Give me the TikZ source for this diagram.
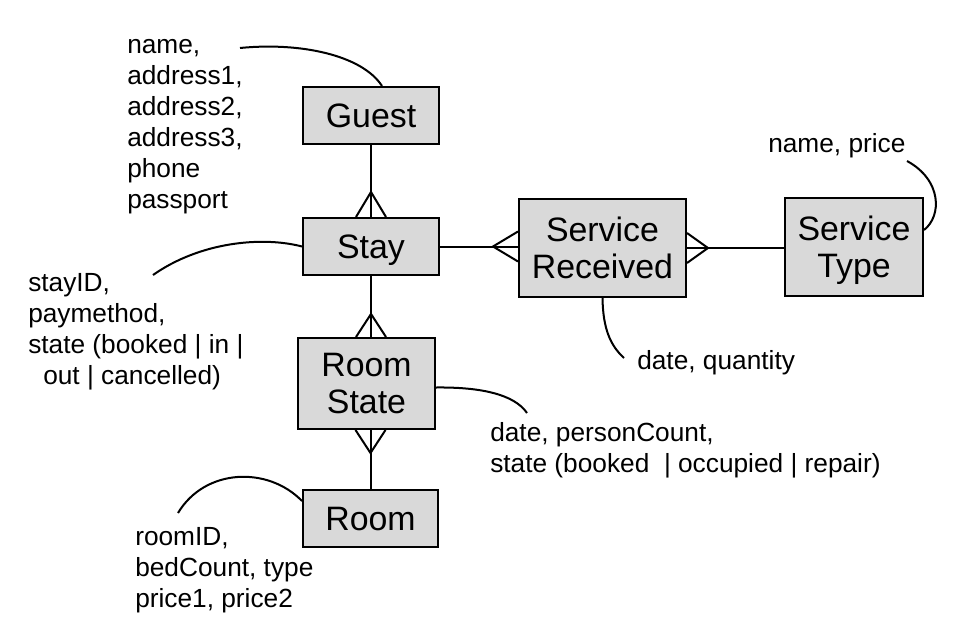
\documentclass[tikz,border=0pt]{standalone}
\usepackage{fontspec}
\setmainfont{Liberation Sans}
\usetikzlibrary{calc}

\definecolor{boxgray}{RGB}{217,217,217}

\tikzset{
  entity/.style={draw, line width=1.5pt, fill=boxgray, inner sep=0pt, align=center,
    text depth=0pt, font=\fontsize{25.4}{27.75}\selectfont},
  attr/.style={anchor=north west, inner sep=0pt, align=left,
    font=\fontsize{19.7}{23.25}\selectfont},
  link/.style={line width=1.5pt},
}

\begin{document}
\begin{tikzpicture}[x=0.75pt,y=-0.75pt]
\useasboundingbox (0,0) rectangle (974,628);

% Entities
\node [entity, minimum width=102pt, minimum height=42.75pt] (guest) at (371,115.5) {Guest};
\node [entity, minimum width=102pt, minimum height=42.75pt] (stay) at (371,246.5) {Stay};
\node [entity, minimum width=102.75pt, minimum height=68.25pt] (rs) at (366.5,383.5) {Room\\State};
\node [entity, minimum width=101.25pt, minimum height=42.75pt] (room) at (370.5,518.5) {Room};
\node [entity, minimum width=125.25pt, minimum height=73.5pt] (sr) at (602.5,248) {Service\\Received};
\node [entity, minimum width=103.5pt, minimum height=73.5pt] (st) at (854,247) {Service\\Type};

% Attribute Text
\node [attr] (guestattr) at (127,39) {name,\\address1,\\address2,\\address3,\\phone\\passport};
\node [attr] (stayattr) at (28,273) {stayID,\\paymethod,\\state (booked | in |\\\hspace*{11.25pt}out | cancelled)};
\node [attr] (rsattr) at (490,422) {date, personCount,\\state (booked~ | occupied | repair)};
\node [attr] (roomattr) at (135,527) {roomID,\\bedCount, type\\price1, price2};
\node [attr] (srattr) at (637,350) {date, quantity};
\node [attr] (stattr) at (768,133) {name, price};

% Relationships
\draw [link] (guest.south) -- (stay.north);
\draw [link] ($(stay.north)+(-15,0)$) -- ++(15,-25) -- ++(15,25);
\draw [link] (stay.south) -- (stay.south |- rs.north);
\draw [link] ($(stay.south |- rs.north)+(-15,0)$) -- ++(15,-23) -- ++(15,23);
\draw [link] (room.north) -- (room.north |- rs.south);
\draw [link] ($(room.north |- rs.south)+(-15,0)$) -- ++(15,23) -- ++(15,-23);
\draw [link] (stay.east) -- (stay.east -| sr.west);
\draw [link] ($(stay.east -| sr.west)+(0,-15)$) -- ++(-25,15) -- ++(25,15);
\draw [link] (sr.east) -- (sr.east -| st.west);
\draw [link] ($(sr.east)+(0,-15)$) -- ++(21,15) -- ++(-21,15);

% Attribute Curves
\coordinate (guestc) at (240,48);
\draw [link] (guestc) .. controls (300,42) and (362,55) .. ($(guest.north)+(11,0)$);
\coordinate (stayc) at (153,275);
\draw [link] (stayc) .. controls (200,242) and (262,236) .. (stay.west);
\coordinate (roomc) at (178,513);
\draw [link] (roomc) .. controls (205,468) and (268,466) .. ($(room.north west)+(0,12)$);
\coordinate (rsc) at (527,413);
\draw [link] ($(rs.east)+(0,4)$) .. controls (480,387) and (514,394) .. (rsc);
\coordinate (src) at (624,358);
\draw [link] (sr.south) .. controls (603,330) and (611,346) .. (src);
\coordinate (stc) at (907,161);
\draw [link] (stc) .. controls (942,180) and (942,216) .. ($(st.east)+(0,-17)$);

\end{tikzpicture}
\end{document}
